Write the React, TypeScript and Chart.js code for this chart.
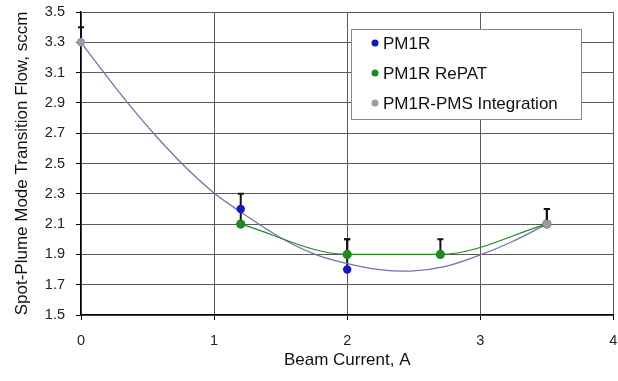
import React, { useEffect, useRef } from 'react';
import { Chart, registerables } from 'chart.js';

Chart.register(...registerables);

// ---- data ----
const seriesNames = ['PM1R', 'PM1R RePAT', 'PM1R-PMS Integration'];

const pm1rX = [1.2, 2.0];
const pm1rY = [2.2, 1.8];
const pm1rErr = [0.1, 0.2];

const repatX = [1.2, 2.0, 2.7, 3.5];
const repatY = [2.1, 1.9, 1.9, 2.1];
const repatErr = [0.1, 0.1, 0.1, 0.1];

const pmsX = [0, 3.5];
const pmsY = [3.3, 2.1];
const pmsErr = [0.1, 0.1];

// polynomial trend line
const trendX = [0, 0.19, 0.36, 0.56, 0.78, 1.0, 1.2, 1.5, 1.76, 2.0, 2.24, 2.48, 2.73, 2.98, 3.23, 3.5];
const trendY = [3.3, 3.08, 2.89, 2.685, 2.48, 2.305, 2.18, 2.01, 1.9, 1.84, 1.8, 1.79, 1.82, 1.89, 1.98, 2.1];

const xTicks = [0, 1, 2, 3, 4];
const yTicks = [1.5, 1.7, 1.9, 2.1, 2.3, 2.5, 2.7, 2.9, 3.1, 3.3, 3.5];

const xTitle = 'Beam Current, A';
const yTitle = 'Spot-Plume Mode Transition Flow, sccm';

const colors = ['#1414c8', '#1f8a1f', '#9a9aac'];
const FONT = "'Liberation Sans', Arial, sans-serif";

const pts = (xs: number[], ys: number[]) => xs.map((x, i) => ({ x, y: ys[i] }));

const errorBarPlugin = {
  id: 'errorBars',
  beforeDatasetsDraw(chart: any) {
    const { ctx } = chart;
    const xs = chart.scales.x;
    const ys = chart.scales.y;
    ctx.save();
    ctx.strokeStyle = '#111';
    ctx.lineWidth = 2;
    chart.data.datasets.forEach((ds: any) => {
      const err = ds.errPlus;
      if (!err) return;
      ds.data.forEach((p: any, i: number) => {
        const px = xs.getPixelForValue(p.x);
        const y0 = ys.getPixelForValue(p.y);
        const y1 = ys.getPixelForValue(p.y + err[i]);
        ctx.beginPath();
        ctx.moveTo(px, y0);
        ctx.lineTo(px, y1);
        ctx.moveTo(px - 3, y1);
        ctx.lineTo(px + 3, y1);
        ctx.stroke();
      });
    });
    ctx.restore();
  },
};

const boxLegendPlugin = {
  id: 'boxLegend',
  afterDraw(chart: any) {
    const { ctx, chartArea } = chart;
    const bx = Math.round(chartArea.right - 262);
    const by = Math.round(chartArea.top + 17);
    const bw = 230;
    const bh = 90;
    ctx.save();
    ctx.fillStyle = '#ffffff';
    ctx.fillRect(bx, by, bw, bh);
    ctx.strokeStyle = '#8a8a8a';
    ctx.lineWidth = 1;
    ctx.strokeRect(bx + 0.5, by + 0.5, bw, bh);
    ctx.font = `17px ${FONT}`;
    ctx.textBaseline = 'middle';
    ctx.textAlign = 'left';
    seriesNames.forEach((name, i) => {
      const cy = by + 14 + i * 30;
      ctx.fillStyle = colors[i];
      ctx.beginPath();
      ctx.arc(bx + 24, cy, 3.5, 0, Math.PI * 2);
      ctx.fill();
      ctx.fillStyle = '#111';
      ctx.fillText(name, bx + 32, cy + 1);
    });
    ctx.restore();
  },
};

export default function App() {
  const ref = useRef<HTMLCanvasElement | null>(null);

  useEffect(() => {
    if (!ref.current) return;
    const chart = new Chart(ref.current, {
      type: 'scatter',
      data: {
        datasets: [
          {
            label: seriesNames[2],
            data: pts(pmsX, pmsY),
            errPlus: pmsErr,
            showLine: false,
            pointRadius: 4.2,
            pointBackgroundColor: colors[2],
            pointBorderColor: colors[2],
            pointBorderWidth: 0,
            clip: false,
          } as any,
          {
            label: seriesNames[0],
            data: pts(pm1rX, pm1rY),
            errPlus: pm1rErr,
            showLine: false,
            pointRadius: 4.2,
            pointBackgroundColor: colors[0],
            pointBorderColor: colors[0],
            pointBorderWidth: 0,
            clip: false,
          } as any,
          {
            label: seriesNames[1],
            data: pts(repatX, repatY),
            errPlus: repatErr,
            showLine: true,
            borderColor: colors[1],
            borderWidth: 1.2,
            cubicInterpolationMode: 'monotone',
            pointRadius: 4.6,
            pointBackgroundColor: colors[1],
            pointBorderColor: colors[1],
            pointBorderWidth: 0,
            clip: false,
          } as any,
          {
            label: 'trend',
            data: pts(trendX, trendY),
            showLine: true,
            borderColor: '#7272b0',
            borderWidth: 1.3,
            tension: 0.4,
            pointRadius: 0,
            pointHoverRadius: 0,
            clip: false,
          } as any,
        ],
      },
      options: {
        responsive: false,
        animation: false,
        events: [],
        layout: { padding: { left: 0, top: 12, right: 3, bottom: 0 } },
        plugins: {
          legend: { display: false },
          tooltip: { enabled: false },
          title: { display: false },
        },
        scales: {
          x: {
            type: 'linear',
            min: 0,
            max: 4,
            afterBuildTicks: (s: any) => {
              s.ticks = xTicks.map((v) => ({ value: v }));
            },
            afterFit: (s: any) => {
              s.height = 66;
              s.paddingLeft = 0;
              s.paddingRight = 0;
            },
            grid: { color: '#5a5a5a', lineWidth: 1, tickLength: 5, tickColor: '#000' },
            border: { color: '#000', width: 1.3 },
            ticks: {
              padding: 12,
              color: '#222',
              font: { family: FONT, size: 14.5 },
              callback: (v: any) => String(v),
            },
            title: {
              display: true,
              text: xTitle,
              color: '#111',
              font: { family: FONT, size: 17 },
              padding: { top: 0, bottom: 10 },
            },
          },
          y: {
            type: 'linear',
            min: 1.5,
            max: 3.5,
            afterBuildTicks: (s: any) => {
              s.ticks = yTicks.map((v) => ({ value: v }));
            },
            afterFit: (s: any) => {
              s.width = 81;
              s.paddingTop = 0;
              s.paddingBottom = 0;
            },
            grid: { color: '#5a5a5a', lineWidth: 1, tickLength: 5, tickColor: '#000' },
            border: { color: '#000', width: 1.3 },
            ticks: {
              padding: 11,
              color: '#222',
              font: { family: FONT, size: 14.5 },
              callback: (v: any) => Number(v).toFixed(1),
            },
            title: {
              display: true,
              text: yTitle,
              color: '#111',
              font: { family: FONT, size: 17 },
              padding: { top: 12, bottom: 0 },
            },
          },
        },
      } as any,
      plugins: [errorBarPlugin, boxLegendPlugin],
    });
    return () => chart.destroy();
  }, []);

  return (
    <div style={{ position: 'absolute', left: 0, top: 0, width: 618, height: 381, background: '#fff' }}>
      <canvas ref={ref} width={618} height={381} />
    </div>
  );
}
